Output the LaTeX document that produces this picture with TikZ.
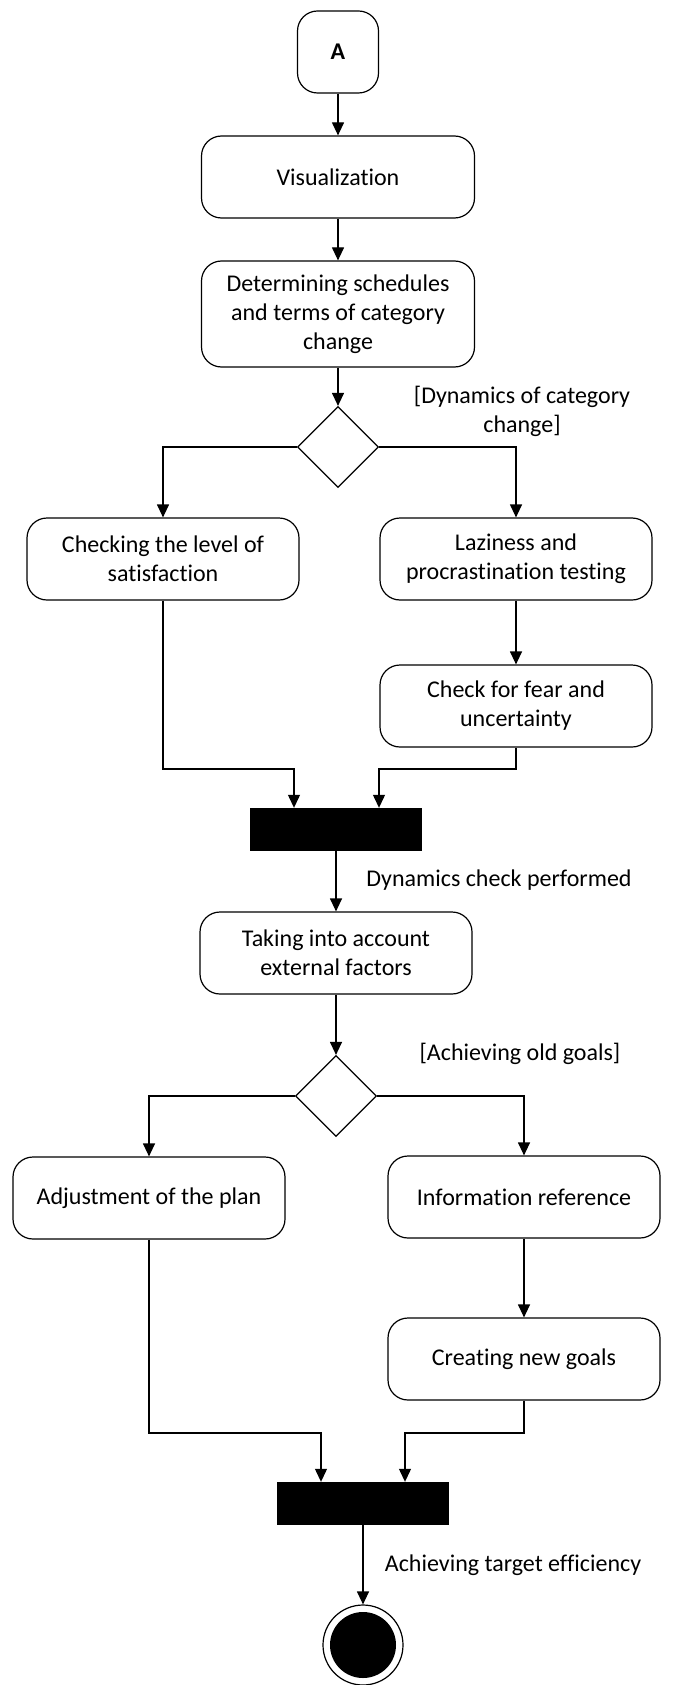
\documentclass[tikz,border=0pt]{standalone}
\usepackage{fontspec}
\setmainfont[Ligatures=NoCommon]{Carlito}
\usetikzlibrary{shapes.geometric,arrows.meta}
\begin{document}
\begin{tikzpicture}[x=1pt,y=-1pt,
  every node/.style={font=\fontsize{24}{29}\selectfont},
  act/.style={draw,line width=1.2pt,rounded corners=20pt,minimum width=272pt,minimum height=82pt,align=center,inner sep=0pt,fill=white},
  dec/.style={draw,line width=1.2pt,diamond,minimum width=81pt,minimum height=81pt,inner sep=0pt},
  bar/.style={fill=black,draw=black,minimum width=171pt,minimum height=42pt,inner sep=0pt},
  lbl/.style={align=center,inner sep=0pt},
  arr/.style={line width=1.2pt,-{Triangle[length=13pt,width=12pt]}}]
\useasboundingbox (0,0) rectangle (672,1685);
% nodes
\node[act,minimum width=81pt,minimum height=82pt,font=\fontsize{24}{29}\selectfont\bfseries] (A) at (338,52) {A};
\node[act,minimum width=273pt] (vis) at (338,177) {Visualization};
\node[act,minimum width=273pt,minimum height=106pt] (det) at (338,314) {Determining schedules\\and terms of category\\change};
\node[dec] (d1) at (338,447) {};
\node[lbl] (l1) at (522,411) {[Dynamics of category\\change]};
\node[act] (chk) at (163,559) {Checking the level of\\satisfaction};
\node[act] (laz) at (516,559) {Laziness and\\procrastination testing};
\node[act] (fear) at (516,706) {Check for fear and\\uncertainty};
\node[bar] (b1) at (336,829) {};
\node[lbl] (l2) at (499,880) {Dynamics check performed};
\node[act] (tak) at (336,953) {Taking into account\\external factors};
\node[dec] (d2) at (336,1096) {};
\node[lbl] (l3) at (520,1054) {[Achieving old goals]};
\node[act] (adj) at (149,1198) {Adjustment of the plan};
\node[act] (inf) at (524,1197) {Information reference};
\node[act] (cre) at (524,1359) {Creating new goals};
\node[bar] (b2) at (363,1503) {};
\node[lbl] (l4) at (513,1565) {Achieving target efficiency};
\node[circle,draw,line width=1.2pt,minimum size=80pt,inner sep=0pt] (fin) at (363,1645) {};
\node[circle,fill=black,minimum size=66pt,inner sep=0pt] (fini) at (363,1645) {};
% join coordinates
\coordinate (k1) at (294,769);
\coordinate (k2) at (379,769);
\coordinate (k3) at (321,1433);
\coordinate (k4) at (405,1433);
% connectors
\draw[arr] (A.south) -- (vis.north);
\draw[arr] (vis.south) -- (det.north);
\draw[arr] (det.south) -- (d1.north);
\draw[arr] (d1.west) -| (chk.north);
\draw[arr] (d1.east) -| (laz.north);
\draw[arr] (laz.south) -- (fear.north);
\draw[arr] (chk.south) |- (k1) -- (k1 |- b1.north);
\draw[arr] (fear.south) |- (k2) -- (k2 |- b1.north);
\draw[arr] (b1.south) -- (tak.north);
\draw[arr] (tak.south) -- (d2.north);
\draw[arr] (d2.west) -| (adj.north);
\draw[arr] (d2.east) -| (inf.north);
\draw[arr] (inf.south) -- (cre.north);
\draw[arr] (adj.south) |- (k3) -- (k3 |- b2.north);
\draw[arr] (cre.south) |- (k4) -- (k4 |- b2.north);
\draw[arr] (b2.south) -- (fin.north);
\end{tikzpicture}
\end{document}
